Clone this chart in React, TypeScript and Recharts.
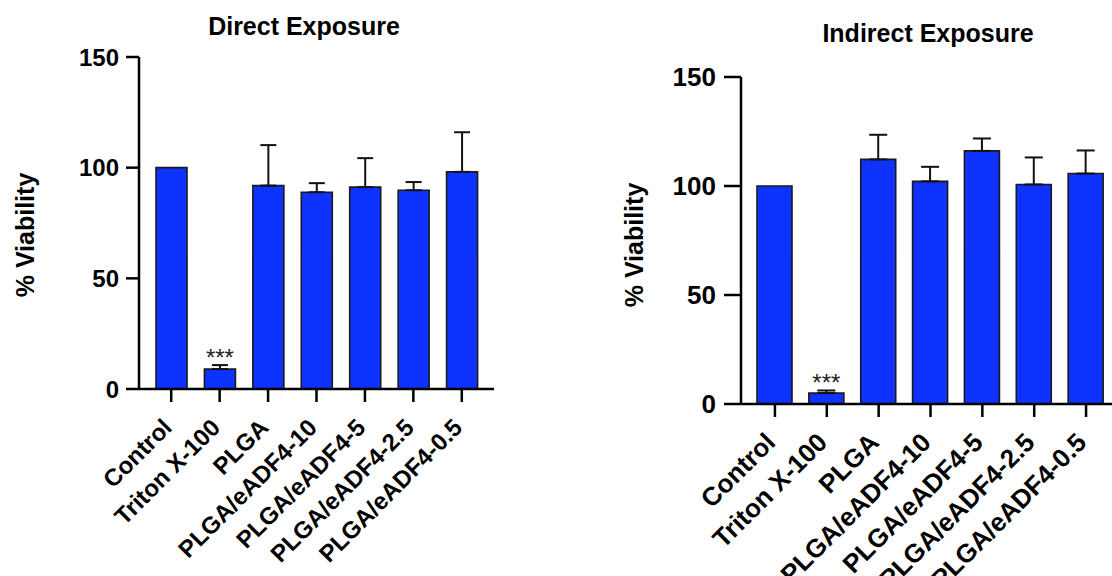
import { BarChart, Bar, XAxis, YAxis, ErrorBar, LabelList } from 'recharts';

// groups on the x axis (same for both panels)
const groups = [
  'Control',
  'Triton X-100',
  'PLGA',
  'PLGA/eADF4-10',
  'PLGA/eADF4-5',
  'PLGA/eADF4-2.5',
  'PLGA/eADF4-0.5',
];

// % viability, mean and upper SD
const directMean = [100, 9.0, 91.9, 88.9, 91.2, 89.8, 98.1];
const directSd = [0, 1.8, 18.3, 4.1, 13.1, 3.7, 17.9];
const indirectMean = [100, 5.0, 112.2, 102.1, 116.1, 100.7, 105.7];
const indirectSd = [0, 1.2, 11.3, 6.7, 5.7, 12.4, 10.6];
const stars = ['', '***', '', '', '', '', ''];
const yTicks = [0, 50, 100, 150];

const FONT = '"Liberation Sans", Arial, Helvetica, sans-serif';
const BLUE = '#0F33FF';

const build = (mean: number[], sd: number[]) =>
  groups.map((g, i) => ({
    name: g,
    value: mean[i],
    err: sd[i] > 0 ? [0, sd[i]] : undefined,
    sig: stars[i],
  }));

const directData = build(directMean, directSd);
const indirectData = build(indirectMean, indirectSd);

const makeTick = (fs: number) => (props: any) => {
  const { x, y, payload } = props;
  return (
    <text
      transform={`translate(${x + 2}, ${y + 27}) rotate(-45)`}
      textAnchor="end"
      fontSize={fs}
      fontWeight="bold"
      fontFamily={FONT}
      fill="#000"
    >
      {payload.value}
    </text>
  );
};

type PanelProps = {
  data: any[];
  title: string;
  left: number;
  width: number;
  yAxisWidth: number;
  top: number;
  bottom: number;
  right: number;
  pad: number;
  barSize: number;
  yTickSize: number;
  yTickMargin: number;
  yFont: number;
  xFont: number;
  titleX: number;
  titleY: number;
  labelX: number;
  labelY: number;
  capWidth: number;
  starOffset: number;
};

function Panel(p: PanelProps) {
  return (
    <div style={{ position: 'absolute', left: p.left, top: 0 }}>
      <BarChart
        width={p.width}
        height={576}
        data={p.data}
        margin={{ top: p.top, right: p.right, bottom: 0, left: 0 }}
      >
        <text
          x={p.titleX}
          y={p.titleY}
          textAnchor="middle"
          fontSize={25}
          fontWeight="bold"
          fontFamily={FONT}
          fill="#000"
        >
          {p.title}
        </text>
        <text
          x={p.labelX}
          y={p.labelY}
          transform={`rotate(-90, ${p.labelX}, ${p.labelY})`}
          textAnchor="middle"
          dominantBaseline="central"
          fontSize={25}
          fontWeight="bold"
          fontFamily={FONT}
          fill="#000"
        >
          % Viability
        </text>
        <XAxis
          dataKey="name"
          interval={0}
          padding={{ left: p.pad, right: p.pad }}
          axisLine={{ stroke: '#000', strokeWidth: 2.5 }}
          tickLine={{ stroke: '#000', strokeWidth: 2.5 }}
          tickSize={13}
          tickMargin={0}
          tick={makeTick(p.xFont)}
          height={p.bottom}
        />
        <YAxis
          width={p.yAxisWidth}
          domain={[0, 150]}
          ticks={yTicks}
          allowDataOverflow
          axisLine={{ stroke: '#000', strokeWidth: 2.5 }}
          tickLine={{ stroke: '#000', strokeWidth: 2.5 }}
          tickSize={p.yTickSize}
          tickMargin={p.yTickMargin}
          tick={{ fill: '#000', fontSize: p.yFont, fontWeight: 'bold', fontFamily: FONT }}
        />
        <Bar
          dataKey="value"
          fill={BLUE}
          stroke="#1a1a1a"
          strokeWidth={1.6}
          barSize={p.barSize}
          isAnimationActive={false}
        >
          <ErrorBar
            dataKey="err"
            direction="y"
            width={p.capWidth}
            stroke="#111"
            strokeWidth={2}
            isAnimationActive={false}
          />
          <LabelList
            dataKey="sig"
            position="top"
            offset={p.starOffset}
            fill="#222"
            fontSize={24}
            fontFamily={FONT}
          />
        </Bar>
      </BarChart>
    </div>
  );
}

export default function App() {
  return (
    <div
      style={{
        position: 'absolute',
        left: 0,
        top: 0,
        width: 1112,
        height: 576,
        overflow: 'hidden',
        background: '#fff',
      }}
    >
      <Panel
        data={directData}
        title="Direct Exposure"
        left={0}
        width={500}
        yAxisWidth={139}
        top={57}
        bottom={187}
        right={6}
        pad={8}
        barSize={31}
        yTickSize={13}
        yTickMargin={7}
        yFont={24}
        xFont={24}
        titleX={304}
        titleY={35}
        labelX={25}
        labelY={235}
        capWidth={8}
        starOffset={3}
      />
      <Panel
        data={indirectData}
        title="Indirect Exposure"
        left={560}
        width={560}
        yAxisWidth={181}
        top={77}
        bottom={172}
        right={0}
        pad={8}
        barSize={35}
        yTickSize={17}
        yTickMargin={8}
        yFont={26}
        xFont={26}
        titleX={368}
        titleY={42}
        labelX={74}
        labelY={245}
        capWidth={9}
        starOffset={2}
      />
    </div>
  );
}
